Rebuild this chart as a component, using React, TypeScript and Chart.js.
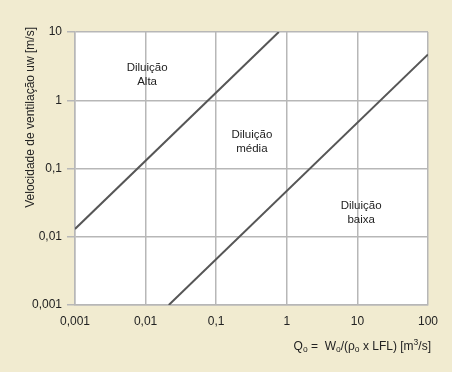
import React, { useEffect, useRef } from "react";
import { Chart, registerables } from "chart.js";
Chart.register(...registerables);

const xTickValues = [0.001, 0.01, 0.1, 1, 10, 100];
const yTickValues = [0.001, 0.01, 0.1, 1, 10];
const highLineX = [0.001, 0.77];
const highLineY = [0.013, 10];
const lowLineX = [0.0213, 100];
const lowLineY = [0.001, 4.7];
const regionLines = [
  ["Diluição", "Alta"],
  ["Diluição", "média"],
  ["Diluição", "baixa"],
];
const regionX = [0.0105, 0.32, 11.3];
const regionY = [2.34, 0.248, 0.0226];
const yTitle = "Velocidade de ventilação uw [m/s]";
const xTitleParts: { t: string; k?: "sub" | "sup" }[] = [
  { t: "Q" },
  { t: "o", k: "sub" },
  { t: " =  W" },
  { t: "o", k: "sub" },
  { t: "/(ρ" },
  { t: "o", k: "sub" },
  { t: " x LFL) [m" },
  { t: "3", k: "sup" },
  { t: "/s]" },
];

const FONT = "'Liberation Sans', Arial, Helvetica, sans-serif";
const BG = "#f1ebd0";
const GRID = "#b7b7b7";
const INK = "#222222";
const fmt = (v: number) => String(v).replace(".", ",");

const decor = {
  id: "decor",
  beforeDraw(chart: any) {
    const { ctx, chartArea: a } = chart;
    ctx.save();
    ctx.fillStyle = BG;
    ctx.fillRect(0, 0, chart.width, chart.height);
    ctx.fillStyle = "#ffffff";
    ctx.fillRect(a.left, a.top, a.right - a.left, a.bottom - a.top);
    ctx.restore();
  },
  afterDraw(chart: any) {
    const { ctx } = chart;
    const xs = chart.scales.x;
    const ys = chart.scales.y;
    ctx.save();
    ctx.fillStyle = INK;
    ctx.font = `11.5px ${FONT}`;
    ctx.textAlign = "center";
    ctx.textBaseline = "middle";
    regionLines.forEach((lines, i) => {
      const cx = xs.getPixelForValue(regionX[i]);
      const cy = ys.getPixelForValue(regionY[i]);
      const lh = 13.5;
      lines.forEach((ln, j) => {
        ctx.fillText(ln, cx, cy + (j - (lines.length - 1) / 2) * lh);
      });
    });

    // y title
    ctx.save();
    ctx.font = `12px ${FONT}`;
    ctx.translate(31, 27);
    ctx.rotate(-Math.PI / 2);
    ctx.textAlign = "right";
    ctx.textBaseline = "middle";
    ctx.fillText(yTitle, 0, 0);
    ctx.restore();

    // x title with sub/superscripts
    const base = 12;
    const small = 8.5;
    const widths = xTitleParts.map((p) => {
      ctx.font = `${p.k ? small : base}px ${FONT}`;
      return ctx.measureText(p.t).width;
    });
    const total = widths.reduce((s, w) => s + w, 0);
    let x = 431 - total;
    const y = 350;
    ctx.textAlign = "left";
    ctx.textBaseline = "alphabetic";
    xTitleParts.forEach((p, i) => {
      ctx.font = `${p.k ? small : base}px ${FONT}`;
      const dy = p.k === "sub" ? 2 : p.k === "sup" ? -5 : 0;
      ctx.fillText(p.t, x, y + dy);
      x += widths[i];
    });
    ctx.restore();
  },
};

export default function App() {
  const ref = useRef<HTMLCanvasElement | null>(null);
  useEffect(() => {
    if (!ref.current) return;
    const tickFont = { family: FONT, size: 12 };
    const chart = new Chart(ref.current, {
      type: "line",
      data: {
        datasets: [
          {
            label: "high",
            data: highLineX.map((x, i) => ({ x, y: highLineY[i] })),
            borderColor: "#565656",
            borderWidth: 2,
            pointRadius: 0,
            fill: false,
          },
          {
            label: "low",
            data: lowLineX.map((x, i) => ({ x, y: lowLineY[i] })),
            borderColor: "#565656",
            borderWidth: 2,
            pointRadius: 0,
            fill: false,
          },
        ],
      },
      options: {
        animation: false,
        responsive: false,
        devicePixelRatio: 1,
        layout: { padding: { left: 0, right: 24, top: 32, bottom: 0 } },
        plugins: { legend: { display: false }, tooltip: { enabled: false } },
        scales: {
          x: {
            type: "logarithmic",
            min: 0.001,
            max: 100,
            afterBuildTicks: (s: any) => {
              s.ticks = xTickValues.map((value) => ({ value }));
            },
            afterFit: (s: any) => {
              s.height = 67;
            },
            ticks: {
              callback: (v: any) => fmt(Number(v)),
              autoSkip: false,
              maxRotation: 0,
              color: INK,
              font: tickFont,
              padding: 9,
            },
            grid: { color: GRID, lineWidth: 1.5, drawTicks: false },
            border: { color: GRID, width: 1.5 },
          },
          y: {
            type: "logarithmic",
            min: 0.001,
            max: 10,
            afterBuildTicks: (s: any) => {
              s.ticks = yTickValues.map((value) => ({ value }));
            },
            afterFit: (s: any) => {
              s.width = 75;
            },
            ticks: {
              callback: (v: any) => fmt(Number(v)),
              autoSkip: false,
              color: INK,
              font: tickFont,
              padding: 5,
            },
            grid: { color: GRID, lineWidth: 1.5, tickLength: 8 },
            border: { color: GRID, width: 1.5 },
          },
        },
      },
      plugins: [decor],
    } as any);
    return () => chart.destroy();
  }, []);
  return (
    <div
      style={{
        position: "fixed",
        left: 0,
        top: 0,
        width: 452,
        height: 372,
        background: BG,
      }}
    >
      <canvas ref={ref} width={452} height={372} style={{ display: "block" }} />
    </div>
  );
}
